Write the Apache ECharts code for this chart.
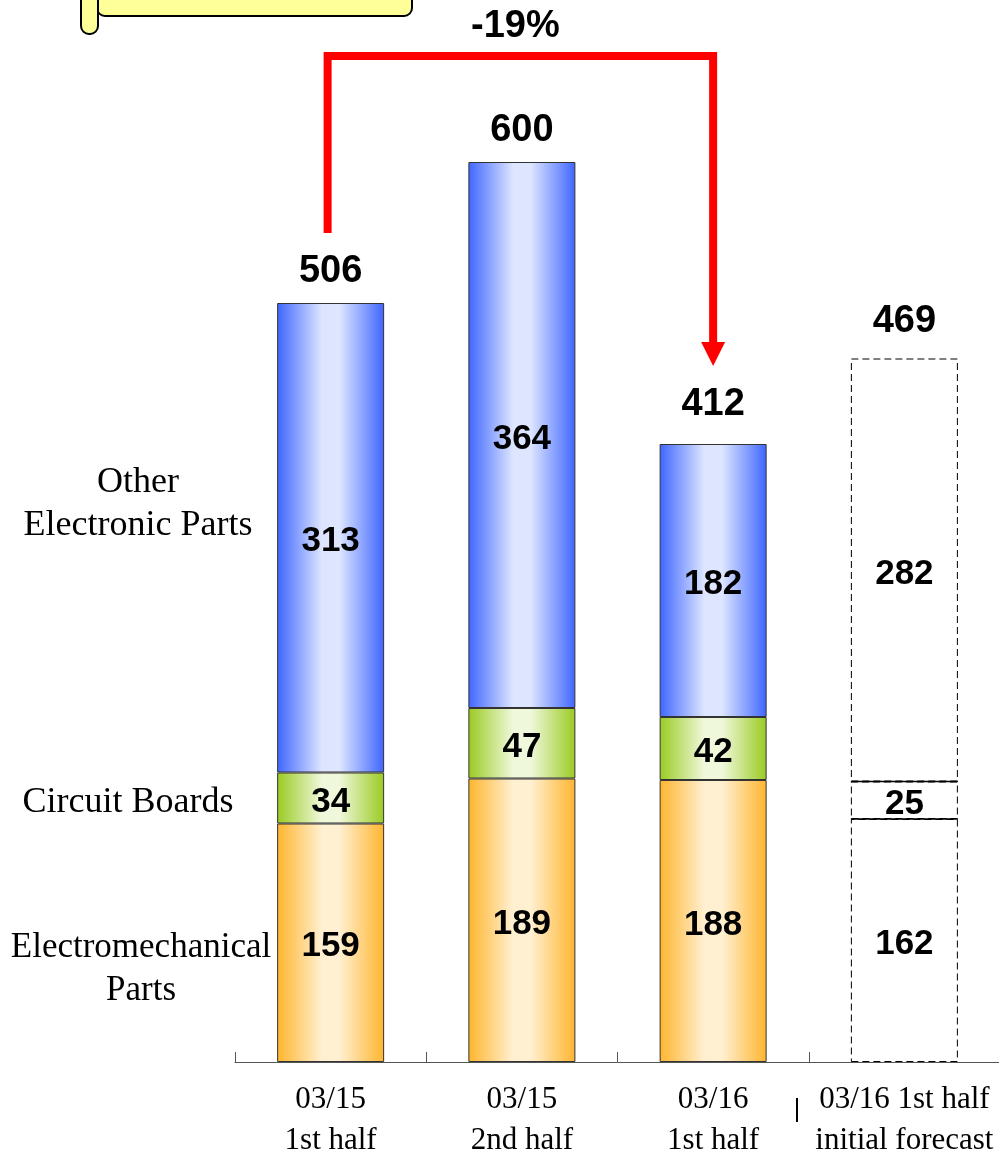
<!DOCTYPE html>
<html>
<head>
<meta charset="utf-8">
<script src="https://cdn.jsdelivr.net/npm/echarts@6/dist/echarts.min.js"></script>
<style>html,body{margin:0;padding:0;background:#fff}#c{width:999px;height:1152px}</style>
</head>
<body>
<div id="c"></div>
<script>
// ---- data ----
var categories = ['03/15\n1st half', '03/15\n2nd half', '03/16\n1st half', '03/16 1st half\ninitial forecast'];
var electromechanical = [159, 189, 188, 162];
var circuitBoards = [34, 47, 42, 25];
var otherElectronic = [313, 364, 182, 282];
var totals = [506, 600, 412, 469];
var forecastIndex = 3;
var changeLabel = '-19%';
var seriesNames = ['Electromechanical\nParts', 'Circuit Boards', 'Other\nElectronic Parts'];

// ---- styles ----
var totalLabelOffsets = [-31, -31, -39, -37];
function grad(edge, mid) {
  return new echarts.graphic.LinearGradient(0, 0, 1, 0, [
    {offset: 0, color: edge}, {offset: 0.42, color: mid}, {offset: 0.58, color: mid}, {offset: 1, color: edge}
  ]);
}
var numFont = '"Liberation Sans", Arial, sans-serif';
var serif = '"Liberation Serif", "Times New Roman", serif';

function buildBar(values, name, fill) {
  return {
    type: 'bar', name: name, stack: 'total', barWidth: 107,
    data: values.map(function (v, i) {
      if (i === forecastIndex) {
        return {value: v, itemStyle: {color: '#ffffff', borderColor: '#000', borderWidth: 1, borderType: [7, 4]}};
      }
      return v;
    }),
    itemStyle: {color: fill, borderColor: '#333', borderWidth: 1},
    label: {show: true, position: 'inside', offset: [0, 4], color: '#000', fontFamily: numFont, fontWeight: 'bold', fontSize: 35},
    silent: true
  };
}

var chart = echarts.init(document.getElementById('c'), null, {renderer: 'canvas'});
var option = {
  animation: false,
  backgroundColor: '#fff',
  grid: {left: 235, top: 162, width: 765, bottom: 90, containLabel: false, outerBoundsMode: 'none'},
  xAxis: {
    type: 'category', data: categories,
    axisLine: {show: true, lineStyle: {color: '#555', width: 1}},
    axisTick: {show: true, inside: true, length: 10, lineStyle: {color: '#555', width: 1}},
    axisLabel: {color: '#000', fontFamily: serif, fontSize: 31, lineHeight: 41, margin: 17, interval: 0}
  },
  yAxis: {type: 'value', min: 0, max: 600, show: false, splitLine: {show: false}},
  series: [
    buildBar(electromechanical, seriesNames[0], grad('#ffb52e', '#fff0d2')),
    buildBar(circuitBoards, seriesNames[1], grad('#9acb22', '#f0f8dc')),
    buildBar(otherElectronic, seriesNames[2], grad('#3f66ff', '#dee6ff')),
    {
      type: 'custom', silent: true, z: 5,
      data: [[forecastIndex, electromechanical[forecastIndex]], [forecastIndex, electromechanical[forecastIndex] + circuitBoards[forecastIndex]]],
      renderItem: function (params, api) {
        var p = api.coord([api.value(0), api.value(1)]);
        var half = 53.5;
        return {type: 'line', shape: {x1: p[0] - half, y1: p[1], x2: p[0] + half, y2: p[1]}, style: {stroke: '#000', lineWidth: 1.5}};
      }
    },
    {
      type: 'scatter', silent: true, symbolSize: 0, z: 6,
      itemStyle: {color: '#000', opacity: 1},
      data: totals.map(function (v, i) {
        return {value: [i, v], label: {offset: [0, totalLabelOffsets[i]]}};
      }),
      label: {show: true, position: 'inside', color: '#000', textBorderWidth: 0, fontFamily: numFont, fontWeight: 'bold', fontSize: 38, formatter: function (p) { return String(p.value[1]); }}
    }
  ]
};
chart.setOption(option);

// annotation graphics derived from the chart's scales
var p0 = chart.convertToPixel({xAxisIndex: 0, yAxisIndex: 0}, [0, totals[0]]);
var p2 = chart.convertToPixel({xAxisIndex: 0, yAxisIndex: 0}, [2, totals[2]]);
var lineTop = 56;
var x0 = p0[0] - 3, x2 = p2[0];
var arrowTipY = p2[1] - 78;
var base = chart.convertToPixel({xAxisIndex: 0, yAxisIndex: 0}, [0, 0]);

chart.setOption({
  graphic: [
    // yellow title scroll (partially off-canvas)
    {type: 'rect', shape: {x: 97, y: -30, width: 315, height: 46, r: 8}, style: {fill: '#ffff99', stroke: '#000', lineWidth: 2}},
    {type: 'rect', shape: {x: 81, y: -30, width: 17, height: 64, r: 8}, style: {fill: '#ffff99', stroke: '#000', lineWidth: 2}},
    // change arrow
    {type: 'polyline', shape: {points: [[x0, p0[1] - 70], [x0, lineTop], [x2, lineTop], [x2, arrowTipY - 22]]}, style: {stroke: '#ff0000', lineWidth: 8, fill: null, lineJoin: 'miter'}},
    {type: 'polygon', shape: {points: [[x2 - 12, arrowTipY - 24], [x2 + 12, arrowTipY - 24], [x2, arrowTipY]]}, style: {fill: '#ff0000'}},
    {type: 'text', x: (x0 + x2) / 2 - 5, y: 27, style: {text: changeLabel, font: 'bold 38px ' + numFont, fill: '#000', align: 'center', verticalAlign: 'middle'}},
    // series labels on the left
    {type: 'text', x: 138, y: 504, style: {text: seriesNames[2], font: '36px ' + serif, fill: '#000', align: 'center', verticalAlign: 'middle', lineHeight: 43}},
    {type: 'text', x: 128, y: 803, style: {text: seriesNames[1], font: '36px ' + serif, fill: '#000', align: 'center', verticalAlign: 'middle'}},
    {type: 'text', x: 141, y: 969, style: {text: seriesNames[0], font: '35px ' + serif, fill: '#000', align: 'center', verticalAlign: 'middle', lineHeight: 43}},
    // separator mark between actual and forecast labels
    {type: 'line', shape: {x1: 797, y1: base[1] + 36, x2: 797, y2: base[1] + 60}, style: {stroke: '#000', lineWidth: 2}}
  ]
});
</script>
</body>
</html>
